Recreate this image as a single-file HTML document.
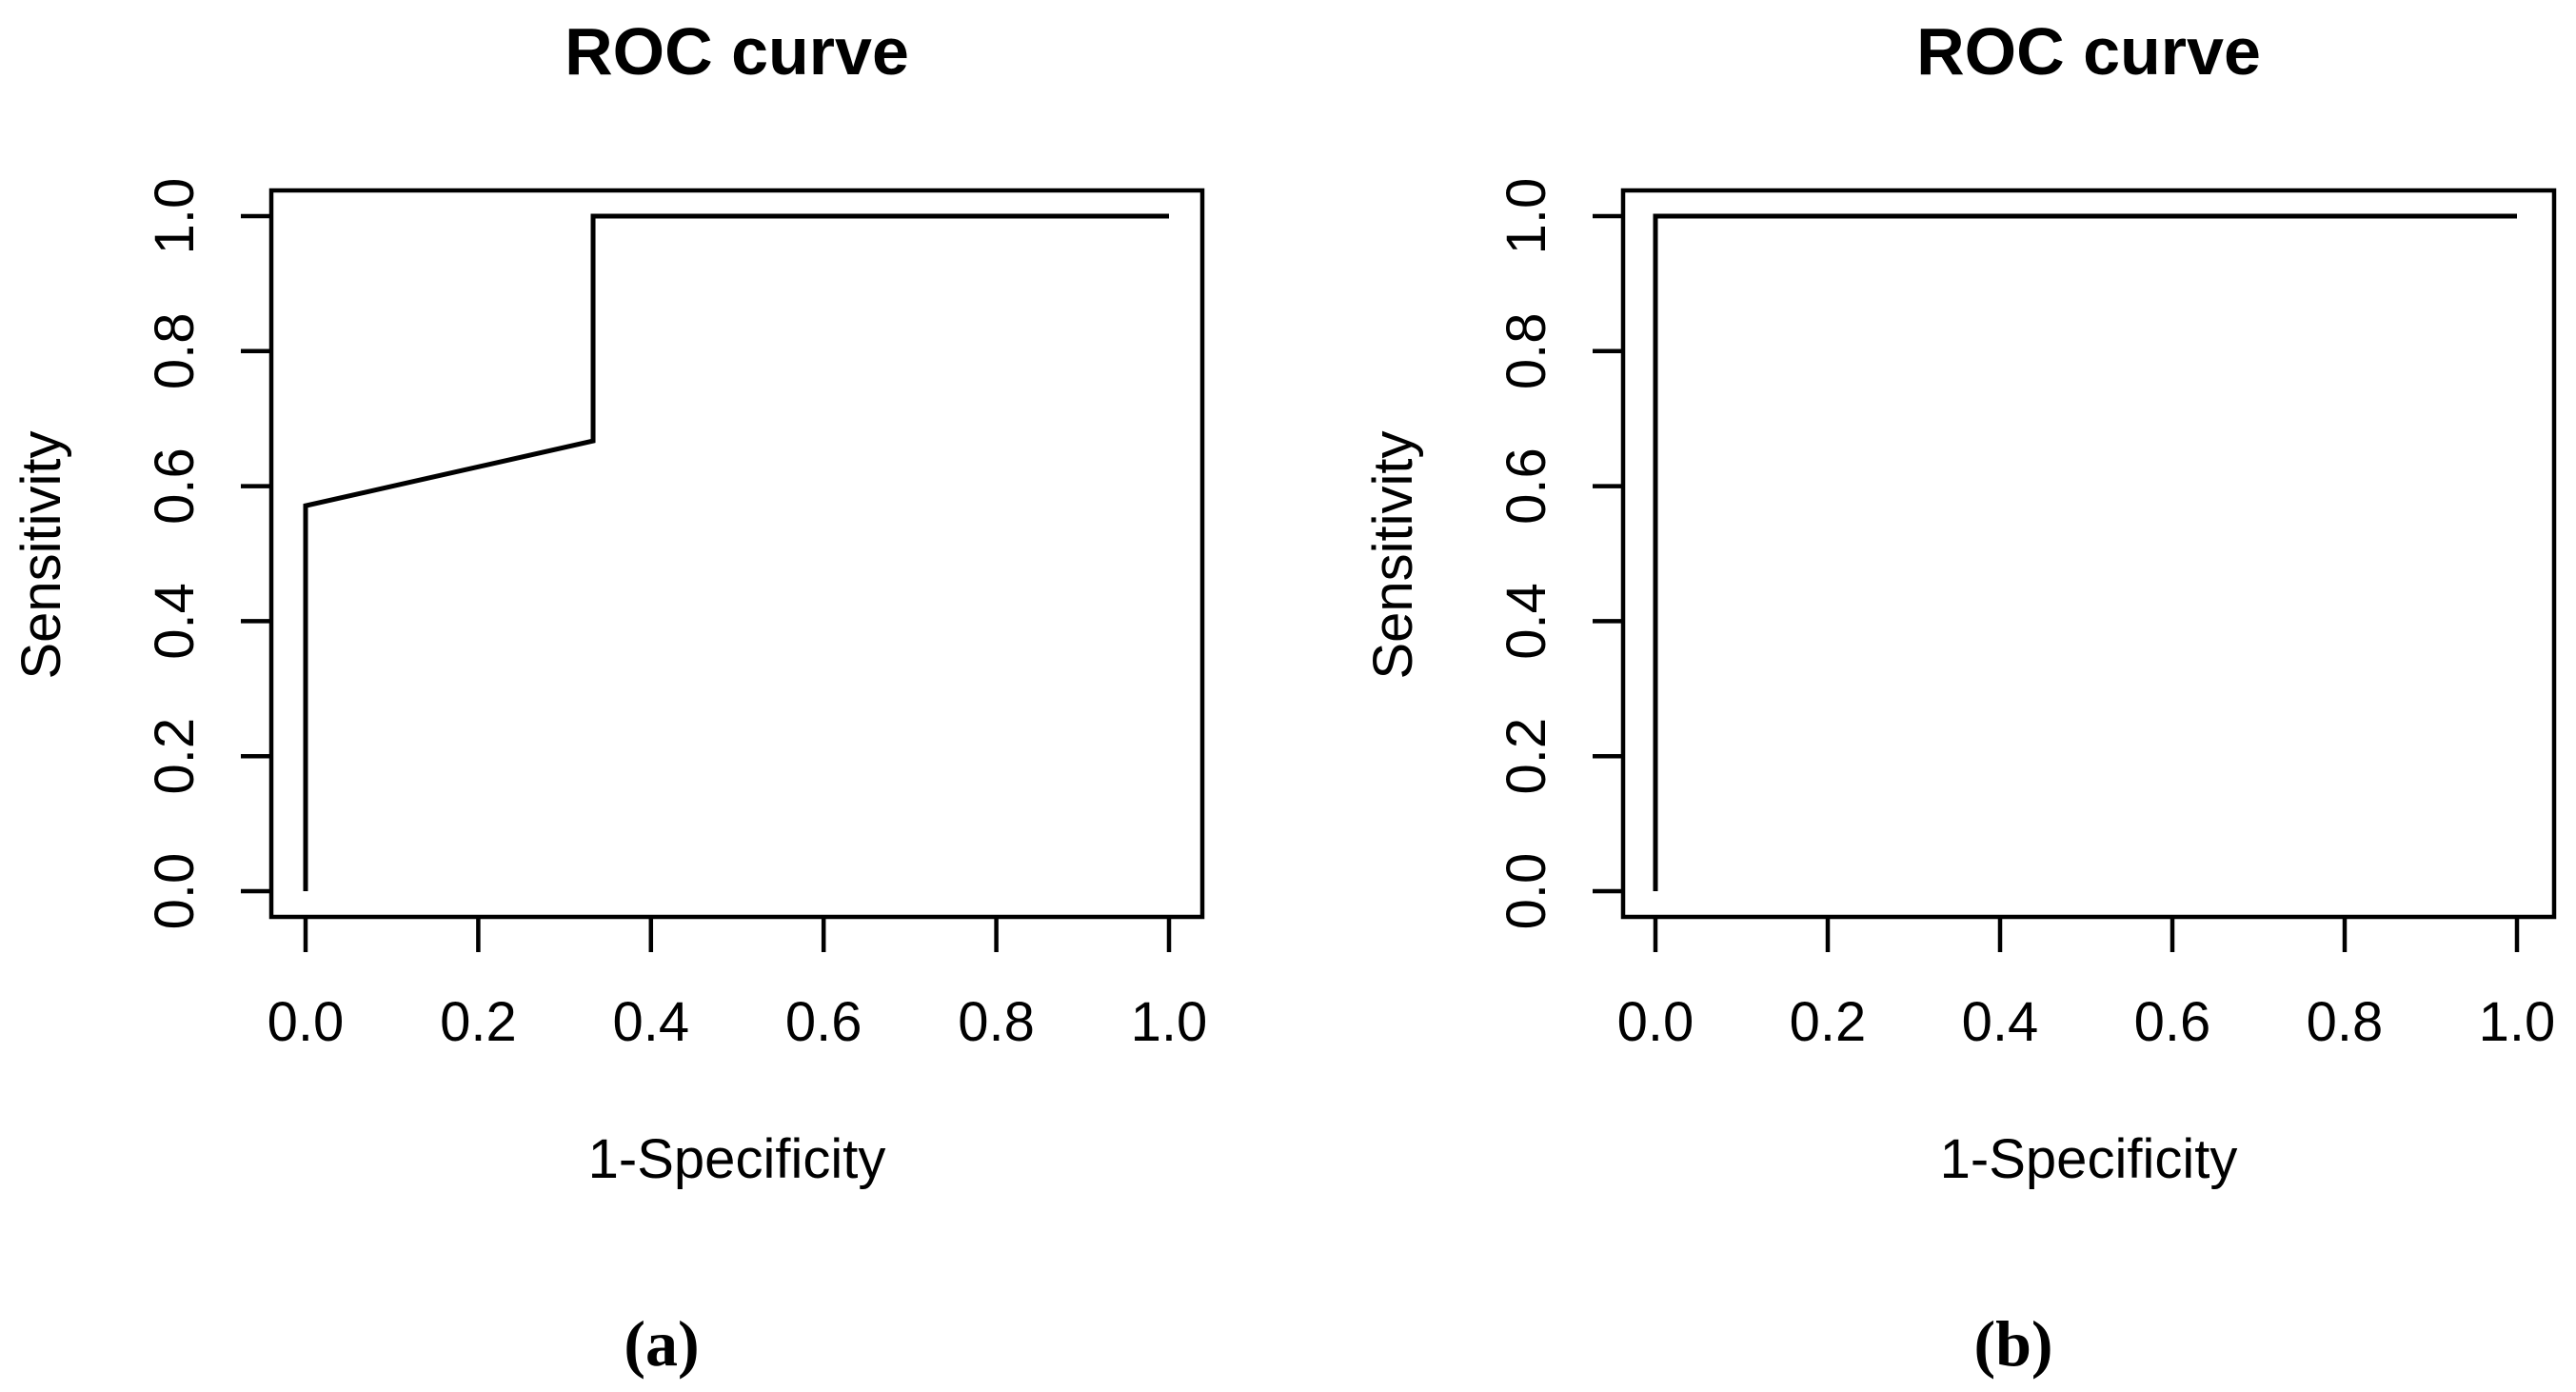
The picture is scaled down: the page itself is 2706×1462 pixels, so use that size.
<!DOCTYPE html>
<html><head><meta charset="utf-8"><style>
html,body{margin:0;padding:0;background:#fff;}
svg{display:block;}
text{font-family:"Liberation Sans",Arial,sans-serif;fill:#000;}
</style></head><body>
<svg id="chart" width="2706" height="1462" viewBox="0 0 2706 1462" xmlns="http://www.w3.org/2000/svg"></svg>
<script>
const xTicks = [0, 0.2, 0.4, 0.6, 0.8, 1.0];
const yTicks = [0, 0.2, 0.4, 0.6, 0.8, 1.0];
const tickLabels = ["0.0", "0.2", "0.4", "0.6", "0.8", "1.0"];
const rocAx = [0, 0, 0.333, 0.333, 1];
const rocAy = [0, 0.571, 0.667, 1, 1];
const rocBx = [0, 0, 1];
const rocBy = [0, 1, 1];

const NS = "http://www.w3.org/2000/svg";
const svg = document.getElementById('chart');
function mk(tag, attrs, parent) {
  const e = document.createElementNS(NS, tag);
  for (const k in attrs) e.setAttribute(k, attrs[k]);
  (parent || svg).appendChild(e);
  return e;
}
function panel(cfg, xs, ys, name, tag) {
  const g = mk('g', {});
  
  
  const sx = v => cfg.x0 + v * (cfg.x1 - cfg.x0);
  const sy = v => cfg.y0 + v * (cfg.y1 - cfg.y0);
  const box = mk('rect', {x: cfg.L, y: 200, width: cfg.R - cfg.L, height: 763, fill: 'none', stroke: '#000', 'stroke-width': 4.5}, g);
  
  
  xTicks.forEach((v, i) => {
    const t = mk('line', {x1: sx(v), x2: sx(v), y1: 963, y2: 1000, stroke: '#000', 'stroke-width': 4.5}, g);
    
    
    const l = mk('text', {x: sx(v), y: 1093, 'font-size': 58, 'text-anchor': 'middle'}, g);
    l.textContent = tickLabels[i];
    
    
  });
  yTicks.forEach((v, i) => {
    const t = mk('line', {x1: cfg.L, x2: cfg.L - 32, y1: sy(v), y2: sy(v), stroke: '#000', 'stroke-width': 4.5}, g);
    
    
    const tx = cfg.L - 82;
    const l = mk('text', {x: tx, y: sy(v), 'font-size': 58, 'text-anchor': 'middle', transform: `rotate(-90 ${tx} ${sy(v)})`}, g);
    l.textContent = tickLabels[i];
    
    
  });
  const pts = xs.map((x, i) => sx(x) + ',' + sy(ys[i])).join(' ');
  const line = mk('polyline', {points: pts, fill: 'none', stroke: '#000', 'stroke-width': 5, 'stroke-linejoin': 'miter'}, g);
  
  
  const cx = (cfg.L + cfg.R) / 2;
  const title = mk('text', {x: cx, y: 78, 'font-size': 70, 'font-weight': 'bold', 'text-anchor': 'middle'}, g);
  title.textContent = 'ROC curve';
  
  
  const xl = mk('text', {x: cx, y: 1237, 'font-size': 58, 'text-anchor': 'middle'}, g);
  xl.textContent = '1-Specificity';
  
  
  const yx = cfg.L - 222;
  const yl = mk('text', {x: yx, y: 583, 'font-size': 58, 'text-anchor': 'middle', transform: `rotate(-90 ${yx} 583)`}, g);
  yl.textContent = 'Sensitivity';
  
  
  const cap = mk('text', {x: cfg.cap, y: 1434, 'font-size': 68, 'font-weight': 'bold', 'text-anchor': 'middle', style: 'font-family:"Liberation Serif",serif'}, g);
  cap.textContent = tag;
  
  
}
panel({L: 285, R: 1263, x0: 321, x1: 1228, y0: 936, y1: 227, cap: 695}, rocAx, rocAy, 'panel-a', '(a)');
panel({L: 1705, R: 2683, x0: 1739, x1: 2644, y0: 936, y1: 227, cap: 2115}, rocBx, rocBy, 'panel-b', '(b)');
</script>
</body></html>
